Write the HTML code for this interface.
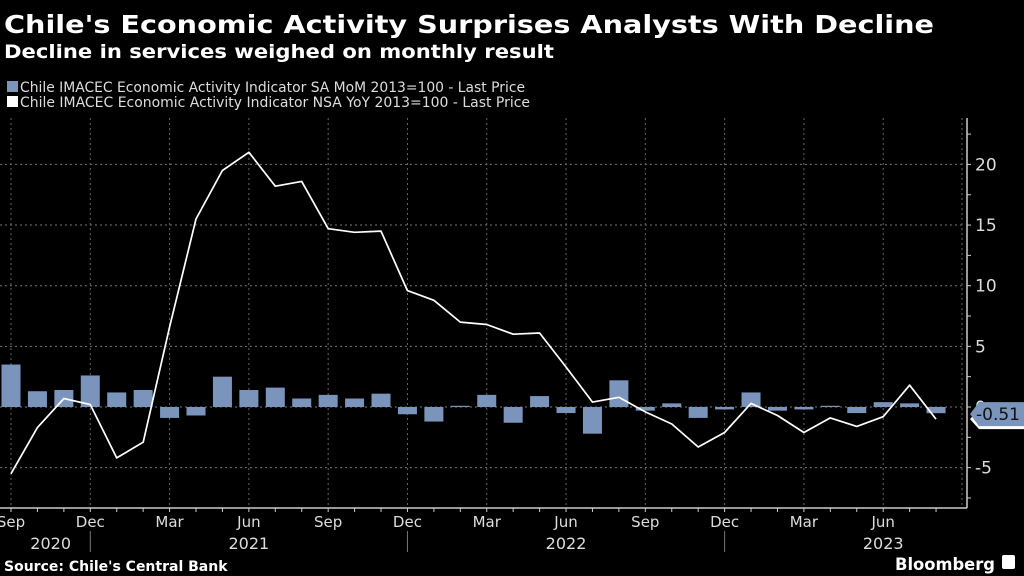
<!DOCTYPE html>
<html><head><meta charset="utf-8"><style>
html,body{margin:0;padding:0;background:#000;}
svg{display:block;font-family:"DejaVu Sans","Liberation Sans",sans-serif;}
</style></head><body>
<svg id="chart" width="1024" height="576" viewBox="0 0 1024 576">
<rect width="1024" height="576" fill="#000"/>
<text x="4" y="33" fill="#fff" font-size="25" font-weight="bold" textLength="930" lengthAdjust="spacingAndGlyphs">Chile's Economic Activity Surprises Analysts With Decline</text>
<text x="4" y="58" fill="#fff" font-size="19" font-weight="bold" textLength="550" lengthAdjust="spacingAndGlyphs">Decline in services weighed on monthly result</text>
<g>
<g><rect x="7" y="81" width="11" height="11" fill="#7b94bb"/><text x="20" y="92" fill="#ddd" font-size="14" textLength="505" lengthAdjust="spacingAndGlyphs">Chile IMACEC Economic Activity Indicator SA MoM 2013=100 - Last Price</text></g>
<g><rect x="7" y="96" width="11" height="11" fill="#fff"/><text x="20" y="107" fill="#ddd" font-size="14" textLength="510" lengthAdjust="spacingAndGlyphs">Chile IMACEC Economic Activity Indicator NSA YoY 2013=100 - Last Price</text></g>
</g>
<g id="grid"></g>
<g id="bars"></g>
<g id="line"></g>
<g id="axes"></g>
<text x="4" y="571" fill="#fff" font-size="14" font-weight="bold">Source: Chile's Central Bank</text>
<text x="895" y="570" fill="#fff" font-size="17" font-weight="bold" textLength="100" lengthAdjust="spacingAndGlyphs">Bloomberg</text>
<rect x="1002" y="555" width="13" height="14" rx="2" fill="#fff"/>
</svg>
<script>
const months = ["Sep","Oct","Nov","Dec","Jan","Feb","Mar","Apr","May","Jun","Jul","Aug","Sep","Oct","Nov","Dec","Jan","Feb","Mar","Apr","May","Jun","Jul","Aug","Sep","Oct","Nov","Dec","Jan","Feb","Mar","Apr","May","Jun","Jul","Aug"];
const saMoM = [3.5,1.3,1.4,2.6,1.2,1.4,-0.9,-0.7,2.5,1.4,1.6,0.7,1.0,0.7,1.1,-0.6,-1.2,0.1,1.0,-1.3,0.9,-0.5,-2.2,2.2,-0.3,0.3,-0.9,-0.2,1.2,-0.3,-0.2,0.1,-0.5,0.4,0.3,-0.51];
const nsaYoY = [-5.5,-1.7,0.7,0.2,-4.2,-2.9,6.6,15.5,19.5,21.0,18.2,18.6,14.7,14.4,14.5,9.6,8.8,7.0,6.8,6.0,6.1,3.3,0.4,0.8,-0.4,-1.4,-3.3,-2.1,0.3,-0.7,-2.1,-0.9,-1.6,-0.8,1.8,-1.0];
const yTicks = [-5,0,5,10,15,20];
const yearLabels = ["2020","2021","2022","2023"];
const yearLabelIdx = [1.5,9,21,33];
const yearSeps = [3,15,27];

(function(){
const NS="http://www.w3.org/2000/svg";
const xs = i => 11 + i*26.43;
const ys = v => 407 - v*12.13;
const plotTop=118, plotBottom=508, plotRight=967;
function mk(tag, attrs, parent){const e=document.createElementNS(NS,tag);for(const k in attrs)e.setAttribute(k,attrs[k]);parent.appendChild(e);return e;}
const grid=document.getElementById('grid'), bars=document.getElementById('bars'), line=document.getElementById('line'), axes=document.getElementById('axes');

yTicks.forEach(v=>{
  const g=mk('line',{x1:0,x2:plotRight-4,y1:ys(v),y2:ys(v),stroke:'#777','stroke-dasharray':'2,3','stroke-width':1},grid);
  
  
});
months.forEach((m,i)=>{
  if(m==="Sep"||m==="Dec"||m==="Mar"||m==="Jun"){
    const g=mk('line',{x1:xs(i),x2:xs(i),y1:plotTop,y2:plotBottom,stroke:'#666','stroke-dasharray':'2,3','stroke-width':1},grid);
    
    
  }
});
mk('line',{x1:plotRight-5,x2:plotRight-5,y1:plotTop,y2:plotBottom,stroke:'#666','stroke-dasharray':'2,3'},grid);

saMoM.forEach((v,i)=>{
  const r=mk('rect',{x:xs(i)-9.5,width:19,y:Math.min(ys(v),ys(0)),height:Math.max(Math.abs(ys(v)-ys(0)),1),fill:'#7b94bb'},bars);
  
  
});

const pts=nsaYoY.map((v,i)=>xs(i).toFixed(1)+','+ys(v).toFixed(1)).join(' ');
const pl=mk('polyline',{points:pts,fill:'none',stroke:'#fff','stroke-width':1.7,'stroke-linejoin':'round'},line);



const xa=mk('line',{x1:0,x2:plotRight,y1:plotBottom,y2:plotBottom,stroke:'#ccc','stroke-width':1.5},axes);


months.forEach((m,i)=>{
  mk('line',{x1:xs(i),x2:xs(i),y1:plotBottom,y2:plotBottom+4,stroke:'#ccc'},axes);
  if(m==="Sep"||m==="Dec"||m==="Mar"||m==="Jun"){
    const t=mk('text',{x:xs(i),y:527,fill:'#ddd','font-size':15,'text-anchor':'middle'},axes);
    t.textContent=m;
    
    
  }
});
yearLabels.forEach((lab,k)=>{
  const t=mk('text',{x:xs(yearLabelIdx[k]),y:549,fill:'#ddd','font-size':16,'text-anchor':'middle'},axes);
  t.textContent=lab;
  
  
});
yearSeps.forEach(i=>{mk('line',{x1:xs(i),x2:xs(i),y1:531,y2:552,stroke:'#777'},axes);});

const ya=mk('line',{x1:plotRight,x2:plotRight,y1:plotTop,y2:plotBottom,stroke:'#ccc','stroke-width':1.5},axes);


for(let v=-7.5;v<=22.5;v+=2.5){ if(ys(v)>=plotTop&&ys(v)<=plotBottom) mk('line',{x1:plotRight,x2:plotRight+4,y1:ys(v),y2:ys(v),stroke:'#ccc'},axes); }
yTicks.forEach(v=>{
  const t=mk('text',{x:975,y:ys(v)+6,fill:'#ddd','font-size':17},axes);
  t.textContent=String(v);
  
  
});

const lv=nsaYoY[nsaYoY.length-1], ly=ys(lv);
const l2=mk('polygon',{points:`${plotRight+3},${ly} ${plotRight+12},${ly-10} 1024,${ly-10} 1024,${ly+10} ${plotRight+12},${ly+10}`,fill:'#fff'},axes);


const sv=saMoM[saMoM.length-1], sy=ys(sv)+1;
const l1=mk('polygon',{points:`${plotRight+3},${sy} ${plotRight+12},${sy-12} 1024,${sy-12} 1024,${sy+12} ${plotRight+12},${sy+12}`,fill:'#7b94bb'},axes);


const lt=mk('text',{x:976,y:sy+6,fill:'#111','font-size':17},axes);
lt.textContent=sv.toFixed(2);


})();
</script>
</body></html>
